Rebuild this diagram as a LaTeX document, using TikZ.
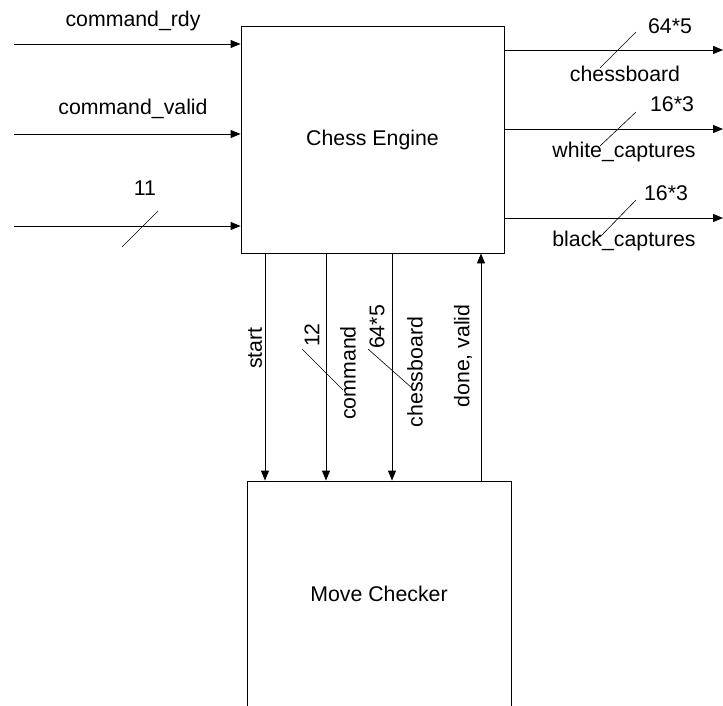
\documentclass[tikz,border=0pt]{standalone}
\usepackage{fontspec}
\setmainfont{Liberation Sans}
\usetikzlibrary{arrows.meta}
\begin{document}
\begin{tikzpicture}[x=1pt,y=-1pt,
  font=\fontsize{21.3}{25}\selectfont,
  line width=0.9pt,
  arr/.style={-{Triangle[length=10pt,width=8pt]}},
  slash/.style={line width=0.6pt},
  box/.style={draw, rectangle, minimum width=263pt, minimum height=227pt, inner sep=0pt},
  lbl/.style={inner sep=0pt}]
\useasboundingbox (0,0) rectangle (723,705);
\clip (0,0) rectangle (723,705);
% boxes
\node[box] (ce) at (372.5,139.5) {Chess Engine};
\node[box, minimum width=264pt, minimum height=226pt] (mc) at (379,594) {Move Checker};
% inputs
\coordinate (i1) at (14,44);
\coordinate (i2) at (14,134);
\coordinate (i3) at (14,226);
\draw[arr] (i1) -- (ce.west |- i1);
\draw[arr] (i2) -- (ce.west |- i2);
\draw[arr] (i3) -- (ce.west |- i3);
\node[lbl] (li1) at (133,21) {command\_rdy};
\node[lbl] (li2) at (133,109) {command\_valid};
\node[lbl] (li3) at (145,188) {11};
\draw[slash] (122,247) -- (158,211);
% outputs
\coordinate (o1) at (723,50);
\coordinate (o2) at (723,129);
\coordinate (o3) at (723,218);
\draw[arr] (ce.east |- o1) -- (o1);
\draw[arr] (ce.east |- o2) -- (o2);
\draw[arr] (ce.east |- o3) -- (o3);
\node[lbl] (lo1a) at (670,26) {64*5};
\node[lbl] (lo1b) at (625,74) {chessboard};
\node[lbl] (lo2a) at (672,104) {16*3};
\node[lbl] (lo2b) at (624,152) {white\_captures};
\node[lbl] (lo3a) at (666,193) {16*3};
\node[lbl] (lo3b) at (624,241) {black\_captures};
\draw[slash] (600,68) -- (636,32);
\draw[slash] (600,146) -- (636,112);
\draw[slash] (600,237) -- (636,200);
% vertical connections
\coordinate (v1) at (265,0);
\coordinate (v2) at (326,0);
\coordinate (v3) at (392,0);
\coordinate (v4) at (481,0);
\draw[arr] (ce.south -| v1) -- (mc.north -| v1);
\draw[arr] (ce.south -| v2) -- (mc.north -| v2);
\draw[arr] (ce.south -| v3) -- (mc.north -| v3);
\draw[arr] (mc.north -| v4) -- (ce.south -| v4);
\node[lbl, rotate=90] (lv1) at (255,348) {start};
\node[lbl, rotate=90] (lv2a) at (312,335) {12};
\node[lbl, rotate=90] (lv2b) at (348,373) {command};
\node[lbl, rotate=90] (lv3a) at (377,327) {64*5};
\node[lbl, rotate=90] (lv3b) at (415,372) {chessboard};
\node[lbl, rotate=90] (lv4) at (463,356) {done, valid};
\draw[slash] (302,349) -- (343,390);
\draw[slash] (368,349) -- (412,388);
\end{tikzpicture}
\end{document}
